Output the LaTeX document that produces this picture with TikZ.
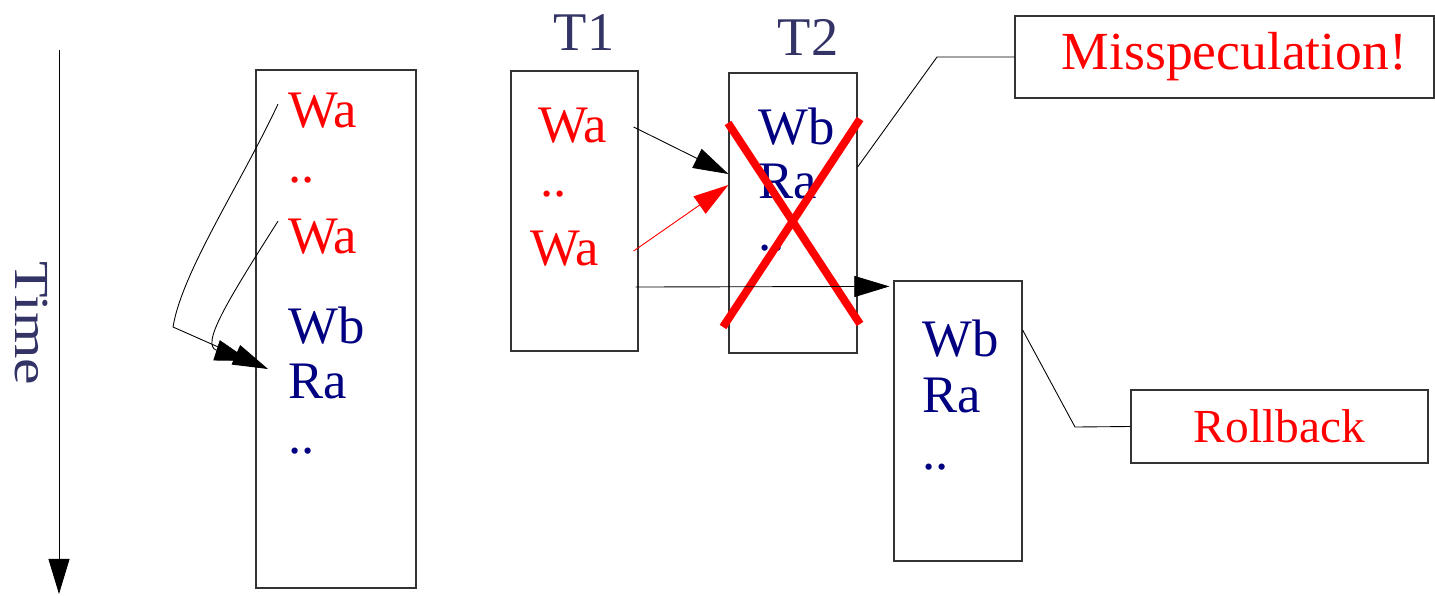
\documentclass[tikz,border=0pt]{standalone}
\usepackage{fontspec}
\setmainfont{Liberation Serif}
\usepackage{graphicx}
\usepackage{tikz}
\usetikzlibrary{arrows.meta}
\usetikzlibrary{calc}

\definecolor{wrcol}{HTML}{FF0000}
\definecolor{rdcol}{HTML}{000080}
\definecolor{slate}{HTML}{333366}

\begin{document}
\begin{tikzpicture}[x=0.02cm,y=-0.02cm,
    box/.style={draw=black!80,line width=0.7pt,inner sep=0pt},
    txt/.style={inner sep=0pt,anchor=base west,font=\fontsize{30}{30}\selectfont},
    wr/.style={txt,text=wrcol},
    rd/.style={txt,text=rdcol},
    arr/.style={-{Triangle[length=20pt,width=12pt]},line width=0.5pt}]
    \useasboundingbox (0,0) rectangle (1435,595);

    % time axis
    \coordinate (ttop) at (59,50);
    \coordinate (tend) at (59,594);
    \draw[arr] (ttop)--(tend);
    \node[text=slate,rotate=-90,font=\fontsize{34}{34}\selectfont] (time) at (31,323) {\scalebox{1}[0.82]{Time}};

    % sequential history
    \node[box,minimum width=3.2cm,minimum height=10.36cm] (hist) at (336,329) {};
    \node[wr] (hwa1) at (288,127) {Wa};
    \node[wr] (hdd1) at (288,182) {..};
    \node[wr] (hwa2) at (288,253) {Wa};
    \node[rd] (hwb) at (288,343) {Wb};
    \node[rd] (hra) at (288,398) {Ra};
    \node[rd] (hdd2) at (288,453) {..};

    \draw[arr] ($(hwa1.west)+(-10,-6)$) .. controls (240,185) and (182,272) .. (173,327)--($(hra.west)+(-20,-12)$);
    \draw[arr] ($(hwa2.west)+(-10,-15)$) .. controls (228,300) and (200,345) .. ($(hra.west)+(-38,-20)$);

    % the two threads
    \node[box,minimum width=2.54cm,minimum height=5.6cm] (t1) at (574.5,211) {};
    \node[box,minimum width=2.56cm,minimum height=5.6cm] (t2) at (793,213) {};
    \node[text=slate,anchor=base,inner sep=0pt,font=\fontsize{31}{31}\selectfont] (t1lbl) at (584,50) {T1};
    \node[text=slate,anchor=base,inner sep=0pt,font=\fontsize{31}{31}\selectfont] (t2lbl) at (808,55) {T2};

    \node[wr] (awa1) at (538,142) {Wa};
    \node[wr] (add) at (540,196) {..};
    \node[wr] (awa2) at (530,265) {Wa};

    \node[rd] (bwb) at (758,144) {Wb};
    \node[rd] (bra) at (758,198) {Ra};
    \node[rd] (bdd) at (758,250) {..};

    \draw[arr] ($(t1.east)+(-5,-84)$)--($(t2.west)+(0,-39)$);
    \draw[arr,draw=wrcol,fill=wrcol] ($(t1.east)+(-5,40)$)--($(t2.west)+(0,-28)$);

    % squash T2
    \draw[wrcol,line width=4.5pt] (728,123)--(860,324);
    \draw[wrcol,line width=4.5pt] (860,119)--(723,327);

    % re-execution
    \node[box,minimum width=2.56cm,minimum height=5.6cm] (rb) at (958,421) {};
    \node[rd] (cwb) at (922,356) {Wb};
    \node[rd] (cra) at (922,412) {Ra};
    \node[rd] (cdd) at (922,469) {..};
    \draw[arr] ($(t1.east)+(-3,76)$)--($(rb.north west)+(-4,6)$);

    % callouts
    \node[box,minimum width=8.38cm,minimum height=1.64cm,text=wrcol,font=\fontsize{30.5}{31}\selectfont] (mis) at (1224.5,57) {\hspace*{0.4cm}Misspeculation!};
    \node[box,minimum width=5.94cm,minimum height=1.46cm,text=wrcol,font=\fontsize{27}{28}\selectfont] (rbk) at (1279.5,426.5) {Rollback};
    \draw[line width=0.5pt] ($(t2.east)+(0,-46)$)--(937,57)--(mis.west);
    \draw[line width=0.5pt] ($(rb.east)+(0,-91)$)--(1075,427)--(rbk.west);
\end{tikzpicture}
\end{document}
